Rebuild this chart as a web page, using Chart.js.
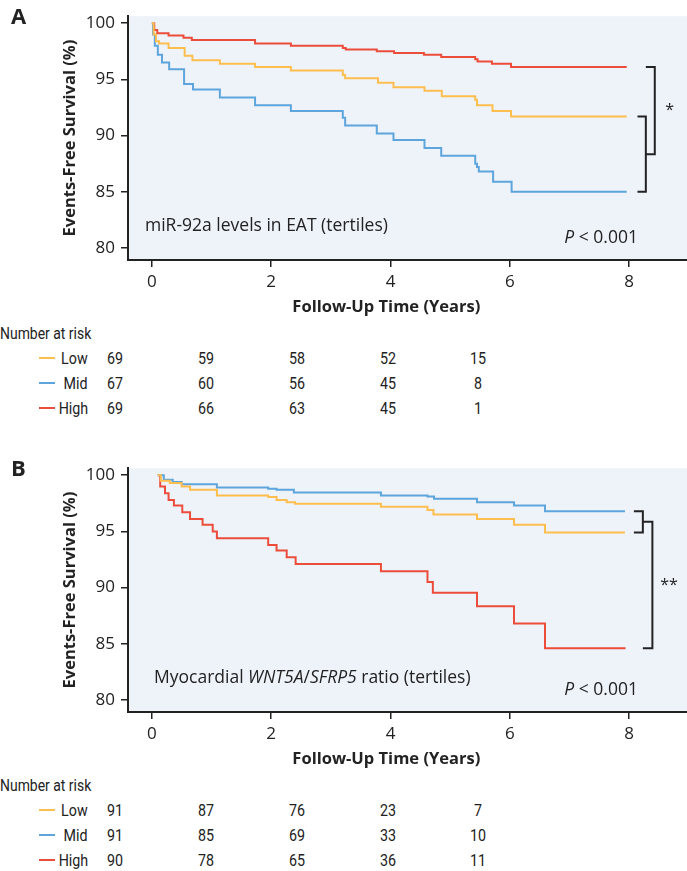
<!DOCTYPE html>
<html>
<head>
<meta charset="utf-8">
<script src="https://cdn.jsdelivr.net/npm/chart.js@4.4.1/dist/chart.umd.min.js"></script>
<style>
  body { margin: 0; background: #fff; color: #222; font-family: "Open Sans", sans-serif; }
  #page { position: relative; width: 687px; height: 871px; overflow: hidden; }
  .panel { position: absolute; left: 0; width: 687px; height: 430px; }
  .panel canvas { position: absolute; left: 0; top: 0; }
  .abs { position: absolute; white-space: nowrap; line-height: 1; }
  .letter { left: 11px; font-weight: bold; font-size: 22px; transform: translateY(-50%); }
  .inlabel { font-size: 17.5px; transform: translateY(-50%); }
  .pval { right: 49px; font-size: 17.5px; transform: translateY(-50%); }
  .risk { font-family: Roboto, sans-serif; font-size: 17px; }
  .risk.num { transform: translate(-50%, -50%) scaleX(0.84); }
  .risk.lab { right: 599px; transform: translateY(-50%) scaleX(0.84); transform-origin: right center; }
  .risk.head { left: 0; transform: translateY(-50%) scaleX(0.82); transform-origin: left center; }
  .swatch { position: absolute; left: 39px; width: 16px; height: 2px; }
</style>
</head>
<body>
<div id="page">
  <div class="panel" id="panelA" style="top:0px">
    <canvas id="chartA" width="687" height="320"></canvas>
  </div>
  <div class="panel" id="panelB" style="top:452px">
    <canvas id="chartB" width="687" height="320"></canvas>
  </div>
</div>
<script>
// ejes
const xTicks = [0, 2, 4, 6, 8];
const yTicks = [80, 85, 90, 95, 100];
const groups = ['Low', 'Mid', 'High'];
const colors = ['#FDBE4E', '#5DA5DC', '#EC4D3A'];

// Panel A: miR-92a en EAT (tiempo en años, supervivencia %)
const aLowT  = [0, 0.03, 0.07, 0.12, 0.28, 0.55, 0.68, 1.14, 1.73, 2.33, 3.2, 3.24, 3.79, 4.05, 4.57, 4.86, 5.42, 5.45, 5.71, 6.02, 7.96];
const aLowS  = [100, 99.0, 98.4, 98.2, 97.8, 97.1, 96.7, 96.4, 96.1, 95.8, 95.4, 95.1, 94.7, 94.3, 94.0, 93.5, 93.2, 92.7, 92.2, 91.7, 91.7];
const aMidT  = [0, 0.02, 0.05, 0.1, 0.17, 0.29, 0.54, 0.69, 1.14, 1.73, 2.33, 3.2, 3.24, 3.77, 4.05, 4.57, 4.85, 5.42, 5.45, 5.48, 5.72, 6.03, 7.96];
const aMidS  = [100, 99.0, 98.0, 97.2, 96.5, 95.9, 94.6, 94.1, 93.4, 92.7, 92.2, 91.6, 90.9, 90.2, 89.6, 88.9, 88.2, 87.5, 87.2, 86.8, 85.9, 85.0, 85.0];
const aHighT = [0, 0.04, 0.09, 0.28, 0.53, 0.67, 1.73, 2.33, 3.2, 3.25, 3.77, 4.06, 4.56, 4.85, 5.42, 5.46, 5.70, 6.02, 7.96];
const aHighS = [100, 99.4, 99.1, 98.9, 98.7, 98.5, 98.2, 98.0, 97.8, 97.65, 97.5, 97.35, 97.2, 97.0, 96.8, 96.6, 96.4, 96.1, 96.1];

const riskALow  = [69, 59, 58, 52, 15];
const riskAMid  = [67, 60, 56, 45, 8];
const riskAHigh = [69, 66, 63, 45, 1];

// Panel B: ratio WNT5A/SFRP5 miocárdico
const bLowT  = [0.1, 0.15, 0.3, 0.5, 0.64, 1.09, 1.95, 2.09, 2.26, 2.4, 3.84, 4.62, 4.72, 5.45, 6.07, 6.59, 7.93];
const bLowS  = [100, 99.5, 99.3, 99.0, 98.7, 98.2, 98.05, 97.8, 97.6, 97.45, 97.2, 96.9, 96.5, 96.1, 95.6, 94.9, 94.9];
const bMidT  = [0.1, 0.2, 0.35, 0.5, 1.09, 1.95, 2.09, 2.38, 3.84, 4.62, 4.73, 5.45, 6.07, 6.59, 7.93];
const bMidS  = [100, 99.6, 99.4, 99.2, 98.9, 98.8, 98.7, 98.45, 98.2, 98.1, 97.9, 97.6, 97.3, 96.8, 96.8];
const bHighT = [0.1, 0.14, 0.22, 0.28, 0.37, 0.51, 0.64, 0.85, 1.02, 1.09, 1.95, 2.09, 2.26, 2.41, 3.84, 4.62, 4.71, 5.45, 6.07, 6.59, 7.94];
const bHighS = [100, 99.0, 98.4, 97.8, 97.3, 96.7, 96.1, 95.6, 95.0, 94.4, 93.8, 93.3, 92.7, 92.1, 91.45, 90.5, 89.55, 88.35, 86.8, 84.6, 84.6];

const riskBLow  = [91, 87, 76, 23, 7];
const riskBMid  = [91, 85, 69, 33, 10];
const riskBHigh = [90, 78, 65, 36, 11];

const FONT = '"Open Sans", sans-serif';
const INK = '#222';

function toPoints(t, s) {
    return t.map((x, i) => ({ x: x, y: s[i] }));
}

// fondo del área del gráfico
const plotBg = {
    id: 'plotBg',
    beforeDraw(chart) {
        const { ctx, chartArea: a } = chart;
        ctx.save();
        ctx.fillStyle = '#EEF3FA';
        ctx.fillRect(a.left, a.top, a.right - a.left, a.bottom - a.top);
        ctx.restore();
    }
};

// corchetes de comparación y título del eje x
const extras = {
    id: 'extras',
    afterDraw(chart, args, opts) {
        const { ctx, scales: { x, y } } = chart;
        const mids = [];
        const endY = e => {
            if (e.series !== undefined) {
                const d = chart.data.datasets[e.series].data;
                return y.getPixelForValue(d[d.length - 1].y);
            }
            return mids[e.bracket];
        };
        ctx.save();
        ctx.strokeStyle = INK;
        ctx.lineWidth = 2;
        ctx.fillStyle = INK;
        opts.brackets.forEach(b => {
            const y1 = endY(b.ends[0]);
            const y2 = endY(b.ends[1]);
            const xv = x.getPixelForValue(b.x);
            const x0 = x.getPixelForValue(b.x0);
            ctx.beginPath();
            ctx.moveTo(x0, y1);
            ctx.lineTo(xv, y1);
            ctx.lineTo(xv, y2);
            ctx.lineTo(x0, y2);
            ctx.stroke();
            mids.push((y1 + y2) / 2);
            if (b.label) {
                ctx.font = '16px ' + FONT;
                ctx.textAlign = 'center';
                ctx.textBaseline = 'middle';
                ctx.fillText(b.label, x.getPixelForValue(b.labelX), (y1 + y2) / 2);
            }
        });
        ctx.font = 'bold 16.5px ' + FONT;
        ctx.textAlign = 'center';
        ctx.textBaseline = 'middle';
        ctx.fillText('Follow-Up Time (Years)', x.getPixelForValue(3.93), 307);
        ctx.restore();
    }
};

function makeChart(canvasId, series, brackets) {
    const ctx = document.getElementById(canvasId).getContext('2d');
    return new Chart(ctx, {
        type: 'line',
        data: {
            datasets: series.map((s, i) => ({
                label: groups[i],
                data: toPoints(s[0], s[1]),
                borderColor: colors[i],
                borderWidth: 2,
                pointRadius: 0,
                stepped: true,
                fill: false
            }))
        },
        options: {
            responsive: false,
            animation: false,
            layout: { padding: { top: 15, right: 0, bottom: 0, left: 0 } },
            plugins: {
                legend: { display: false },
                tooltip: { enabled: false },
                extras: { brackets: brackets }
            },
            scales: {
                x: {
                    type: 'linear',
                    min: -0.4,
                    max: 8.97,
                    afterBuildTicks: s => { s.ticks = xTicks.map(v => ({ value: v })); },
                    afterFit: s => { s.height = 60; },
                    grid: { drawOnChartArea: false, drawTicks: true, tickLength: 7, color: INK, lineWidth: 1.5 },
                    border: { color: INK, width: 2 },
                    ticks: { color: INK, padding: 5, font: { family: FONT, size: 17 } }
                },
                y: {
                    type: 'linear',
                    min: 78.94,
                    max: 100.62,
                    afterBuildTicks: s => { s.ticks = yTicks.map(v => ({ value: v })); },
                    afterFit: s => { s.width = 128; },
                    grid: { drawOnChartArea: false, drawTicks: true, tickLength: 7, color: INK, lineWidth: 1.5 },
                    border: { color: INK, width: 2 },
                    ticks: { color: INK, padding: 6, font: { family: FONT, size: 17 } },
                    title: {
                        display: true,
                        text: 'Events-Free Survival (%)',
                        color: INK,
                        font: { family: FONT, size: 16.5, weight: 'bold' },
                        padding: { top: 60, bottom: 0 }
                    }
                }
            }
        },
        plugins: [plotBg, extras]
    });
}

// textos en HTML: letra del panel, etiqueta, P y tabla de número en riesgo
function addText(panelId, letter, labelHtml, labelLeft, riskRows) {
    const panel = document.getElementById(panelId);
    const add = (cls, html, style) => {
        const d = document.createElement('div');
        d.className = cls;
        d.innerHTML = html;
        Object.assign(d.style, style);
        panel.appendChild(d);
        return d;
    };
    add('abs letter', letter, { top: '15px' });
    add('abs inlabel', labelHtml, { left: labelLeft + 'px', top: '225px' });
    add('abs pval', '<i>P</i> &lt; 0.001', { top: '237px' });
    add('abs risk head', 'Number at risk', { top: '333px' });
    const rowY = [358, 383, 408];
    const colX = [115, 206, 297, 388, 478];
    riskRows.forEach((row, i) => {
        add('swatch', '', { top: (rowY[i] - 1) + 'px', background: colors[i] });
        add('abs risk lab', groups[i], { top: rowY[i] + 'px' });
        row.forEach((n, j) => {
            add('abs risk num', String(n), { left: colX[j] + 'px', top: rowY[i] + 'px' });
        });
    });
}

makeChart('chartA',
    [[aLowT, aLowS], [aMidT, aMidS], [aHighT, aHighS]],
    [
        { ends: [{ series: 0 }, { series: 1 }], x: 8.28, x0: 8.14 },
        { ends: [{ series: 2 }, { bracket: 0 }], x: 8.43, x0: 8.28, label: '*', labelX: 8.68 }
    ]);
makeChart('chartB',
    [[bLowT, bLowS], [bMidT, bMidS], [bHighT, bHighS]],
    [
        { ends: [{ series: 1 }, { series: 0 }], x: 8.23, x0: 8.08 },
        { ends: [{ bracket: 0 }, { series: 2 }], x: 8.39, x0: 8.23, label: '**', labelX: 8.67 }
    ]);

addText('panelA', 'A', 'miR-92a levels in EAT (tertiles)', 145, [riskALow, riskAMid, riskAHigh]);
addText('panelB', 'B', 'Myocardial <i>WNT5A</i>/<i>SFRP5</i> ratio (tertiles)', 154, [riskBLow, riskBMid, riskBHigh]);
</script>
</body>
</html>
